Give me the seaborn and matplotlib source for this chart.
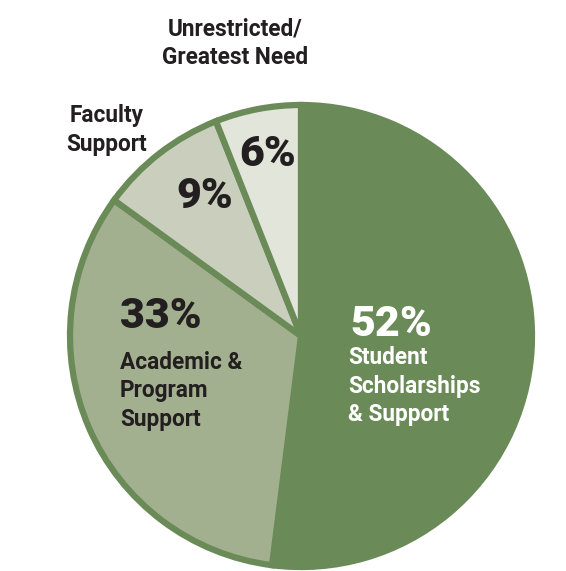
import matplotlib.pyplot as plt
import seaborn as sns

sns.set_theme(style="white")
plt.rcParams['font.family'] = ['Roboto', 'DejaVu Sans']

categories = ['Student Scholarships & Support', 'Academic & Program Support',
              'Faculty Support', 'Unrestricted/Greatest Need']
values = [52, 33, 9, 6]
colors = ['#6a8a58', '#a3b08f', '#c9cfbc', '#e2e5da']
edge = '#6a8a58'

W, H = 566, 571
fig = plt.figure(figsize=(W / 100, H / 100), dpi=100)
ax = fig.add_axes([0, 0, 1, 1])

cx, cy, r = 301, H - 336, 231
ax.pie(values, colors=colors, startangle=90, counterclock=False,
       center=(cx, cy), radius=r,
       wedgeprops=dict(edgecolor=edge, linewidth=4.5))
ax.set_xlim(0, W)
ax.set_ylim(0, H)
ax.set_aspect('auto')
ax.axis('off')

dark = '#231f20'
lab = dict(fontsize=16.3, fontweight='bold', linespacing=1.3)
pct = dict(fontsize=31, fontweight='black')

# percentages
ax.text(350, H - 324, f'{values[0]}%', color='white', ha='left', va='center', **pct)
ax.text(120, H - 316, f'{values[1]}%', color=dark, ha='left', va='center', **pct)
ax.text(205, H - 197, f'{values[2]}%', color=dark, ha='center', va='center', **pct)
ax.text(268, H - 155, f'{values[3]}%', color=dark, ha='center', va='center', **pct)

# category labels
ax.text(348, H - 386, 'Student\nScholarships\n& Support', color='white',
        ha='left', va='center', **lab)
ax.text(120, H - 391, 'Academic &\nProgram\nSupport', color=dark,
        ha='left', va='center', **lab)
ax.text(107, H - 130, 'Faculty\nSupport', color=dark, ha='center', va='center', **lab)
ax.text(235, H - 43, 'Unrestricted/\nGreatest Need', color=dark,
        ha='center', va='center', **lab)

fig.savefig('out.png', dpi=100, facecolor='white')
